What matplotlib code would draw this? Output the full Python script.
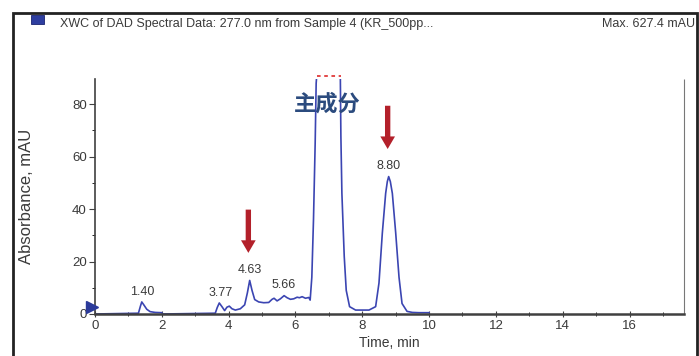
import matplotlib.pyplot as plt
from matplotlib.patches import Rectangle

plt.rcParams['font.family'] = ['Liberation Sans', 'Noto Sans CJK SC', 'DejaVu Sans']

# 色谱数据 (时间 min, 吸光度 mAU)
time = [0.00, 1.30, 1.36, 1.40, 1.46, 1.55, 1.65, 1.80, 2.00, 2.02, 3.60, 3.66,
        3.72, 3.80, 3.88, 3.95, 4.02, 4.10, 4.20, 4.35, 4.48, 4.56, 4.63, 4.70,
        4.78, 4.90, 5.05, 5.20, 5.30, 5.36, 5.45, 5.55, 5.66, 5.75, 5.85, 5.95,
        6.05, 6.12, 6.20, 6.30, 6.40, 6.44, 6.49, 6.54, 6.59, 6.62, 6.66, 6.80,
        7.00, 7.20, 7.34, 7.36, 7.39, 7.46, 7.52, 7.62, 7.80, 8.00, 8.20, 8.40,
        8.50, 8.60, 8.70, 8.75, 8.79, 8.84, 8.90, 9.00, 9.10, 9.19, 9.34, 9.50,
        9.70, 10.00]
absorb = [0.0, 0.3, 3.0, 4.6, 3.5, 1.8, 0.9, 0.6, 0.5, 0.0, 0.3, 2.5,
          4.2, 2.8, 1.3, 2.6, 3.0, 2.0, 1.5, 2.0, 3.5, 8.0, 12.8, 9.0,
          5.5, 4.6, 4.3, 4.4, 5.6, 6.0, 5.0, 5.8, 7.0, 6.2, 5.6, 5.8,
          6.4, 6.2, 6.6, 6.0, 6.3, 5.3, 14.0, 36.0, 65.0, 88.0, 95.0, 300.0,
          627.4, 300.0, 95.0, 67.7, 46.0, 22.0, 9.0, 2.8, 1.5, 1.5, 1.5, 2.8,
          11.8, 30.8, 46.0, 50.5, 52.4, 50.5, 46.0, 31.0, 14.0, 4.0, 1.0, 0.6,
          0.5, 0.5]

# 峰标签
peak_rt = [1.40, 3.77, 4.63, 5.66, 8.80]
peak_h = [4.6, 4.2, 12.8, 7.0, 52.4]
# 红色箭头指示的峰
arrow_rt = [4.63, 8.80]
arrow_h = [12.8, 52.4]
# 超出量程的主峰范围
offscale = [6.64, 7.35]

line_c = '#3b45b2'
text_c = '#3a3a3a'

fig = plt.figure(figsize=(6.99, 3.56), dpi=100)
ax = fig.add_axes([95/699, 1-314/356, (684-95)/699, (314-79)/356])

ax.plot(time, absorb, color=line_c, lw=1.2)
ax.set_xlim(0, 17.63)
ax.set_ylim(0, 89.6)

# 峰的保留时间
for rt, h in zip(peak_rt, peak_h):
    ax.annotate(f"{rt:.2f}", (rt, h), xytext=(0, 3), textcoords='offset points',
                ha='center', va='bottom', fontsize=9, color=text_c)

# 红色箭头
for rt, h in zip(arrow_rt, arrow_h):
    ax.arrow(rt - 0.04, h + 27, 0, -16.5, width=0.16, head_width=0.44,
             head_length=4.8, length_includes_head=True, color='#b3202a', lw=0)

ax.text(6.95, 80, "主成分", ha='center', va='center', fontsize=16,
        fontweight='bold', color='#2b4b7e', family=['Noto Sans CJK SC'])

# 主峰超出量程标记
ax.plot(offscale, [90.6, 90.6], color='#e03a3a', ls=(0, (2, 2)), lw=1.3, clip_on=False)
ax.plot(-0.09, 2.5, marker='>', ms=8, color='#2b3a9a', clip_on=False, zorder=5)

# 坐标轴
ax.spines['top'].set_visible(False)
ax.spines['right'].set_linestyle((0, (1, 1)))
ax.spines['right'].set_color('#777777')
ax.spines['bottom'].set_linewidth(1.8)
ax.spines['bottom'].set_color('#404040')
ax.spines['left'].set_linewidth(1.2)
ax.spines['left'].set_color('#404040')
ax.set_xticks(range(0, 17, 2))
ax.set_xticks(range(1, 18, 2), minor=True)
ax.set_yticks(range(0, 81, 20))
ax.set_yticks(range(10, 90, 20), minor=True)
ax.tick_params(axis='both', labelsize=9.5, labelcolor=text_c, color='#404040')
ax.tick_params(axis='x', which='major', direction='inout', length=5, pad=2)
ax.tick_params(axis='x', which='minor', direction='inout', length=3)
ax.tick_params(axis='y', which='major', length=4, pad=2)
ax.tick_params(axis='y', which='minor', length=2)
ax.tick_params(right=False)

ax.set_xlabel("Time, min", fontsize=10, color=text_c, labelpad=3)
ax.set_ylabel("Absorbance, mAU", fontsize=12, color=text_c, labelpad=27)

# 外框与图例标题
fig.add_artist(Rectangle((13/699, -0.05), (697-13)/699, 1.05 - 13/356,
                         transform=fig.transFigure, fill=False, ec='#222222', lw=2))
fig.add_artist(Rectangle((31/699, 1-24/356), 13/699, 9/356, transform=fig.transFigure,
                         fc='#2e3ea0', ec='#1a2470', lw=0.6))
fig.text(60/699, 1-24/356, "XWC of DAD Spectral Data: 277.0 nm from Sample 4 (KR_500pp...",
         fontsize=9, color=text_c, va='center')
fig.text(695/699, 1-24/356, "Max. 627.4 mAU", fontsize=9, color=text_c,
         va='center', ha='right')

plt.savefig("out.png", dpi=100)
